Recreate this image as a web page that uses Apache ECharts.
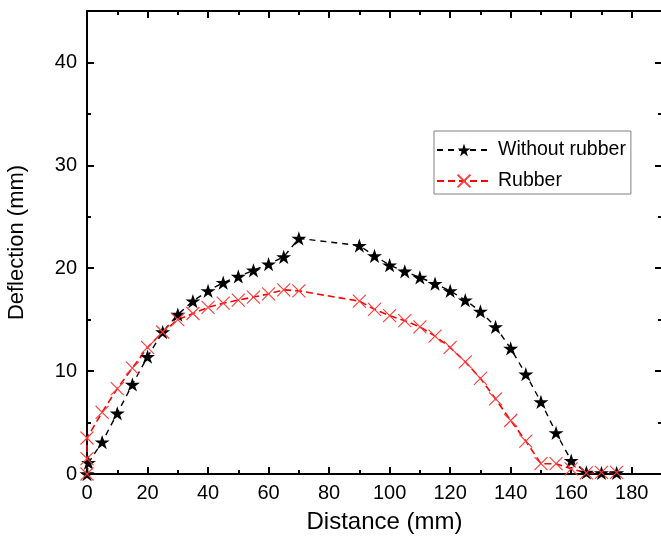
<!DOCTYPE html>
<html>
<head>
<meta charset="utf-8">
<script src="https://cdn.jsdelivr.net/npm/echarts@6/dist/echarts.min.js"></script>
<style>
  html, body { margin: 0; padding: 0; background: #fff; }
  #chart { width: 661px; height: 545px; }
</style>
</head>
<body>
<div id="chart"></div>
<script>
// Measured deflection profiles along the span (mm)
const withoutRubberX = [0, 0.5, 5, 10, 15, 20, 25, 30, 35, 40, 45, 50, 55, 60, 65, 70, 90, 95, 100, 105, 110, 115, 120, 125, 130, 135, 140, 145, 150, 155, 160, 165, 170, 175];
const withoutRubberY = [0, 1.1, 3.1, 5.9, 8.7, 11.4, 13.8, 15.5, 16.8, 17.8, 18.6, 19.2, 19.8, 20.4, 21.1, 22.9, 22.2, 21.2, 20.3, 19.7, 19.1, 18.5, 17.8, 16.9, 15.8, 14.3, 12.2, 9.7, 7.0, 4.0, 1.3, 0.15, 0.1, 0.1];

const rubberX = [0, 0, 0, 5, 10, 15, 20, 25, 30, 35, 40, 45, 50, 55, 60, 65, 70, 90, 95, 100, 105, 110, 115, 120, 125, 130, 135, 140, 145, 150, 155, 160, 165, 170, 175];
const rubberY = [0, 1.5, 3.5, 6.0, 8.3, 10.3, 12.3, 13.8, 15.0, 15.6, 16.2, 16.6, 16.9, 17.2, 17.5, 17.9, 17.8, 16.8, 16.0, 15.4, 14.9, 14.3, 13.4, 12.3, 10.9, 9.3, 7.3, 5.2, 3.2, 1.0, 1.0, 0.5, 0.1, 0.15, 0.15];

const seriesNames = ['Without rubber', 'Rubber'];

const zip = (xs, ys) => xs.map((x, i) => [x, ys[i]]);

const STAR = 'path://M50,0L61.2,34.5L97.6,34.5L68.2,55.9L79.4,90.5L50,69.1L20.6,90.5L31.8,55.9L2.4,34.5L38.8,34.5Z';
const CROSS = 'path://M0,0L10,10M0,10L10,0';

const FONT = '"Liberation Sans", Arial, sans-serif';

const tickCommon = {
  axisLine: { show: true, onZero: false, lineStyle: { color: '#000', width: 2 } },
  axisTick: { show: true, inside: true, length: 7, lineStyle: { color: '#000', width: 2 } },
  minorTick: { show: true, splitNumber: 2, length: 4, lineStyle: { color: '#000', width: 2 } },
  splitLine: { show: false }
};

const chart = echarts.init(document.getElementById('chart'), null, { renderer: 'canvas' });

chart.setOption({
  animation: false,
  backgroundColor: '#fff',
  textStyle: { fontFamily: FONT },
  grid: { left: 87, top: 11, width: 575, height: 463, containLabel: false, outerBoundsMode: 'none' },
  legend: {
    orient: 'vertical',
    left: 434,
    top: 131,
    data: seriesNames,
    itemWidth: 54,
    itemHeight: 16,
    itemGap: 11,
    padding: [9, 5, 3, 2],
    borderColor: '#808080',
    borderWidth: 1,
    textStyle: { fontFamily: FONT, fontSize: 19.5, color: '#000', lineHeight: 20, padding: [0, 0, 0, 2] }
  },
  xAxis: [
    Object.assign({
      type: 'value', position: 'bottom', min: 0, max: 190, interval: 20,
      name: 'Distance (mm)', nameLocation: 'middle', nameGap: 36,
      nameTextStyle: { fontFamily: FONT, fontSize: 24, color: '#000', padding: [0, 0, 0, 20] },
      axisLabel: { fontFamily: FONT, fontSize: 20, color: '#000', margin: 9,
        formatter: v => (v % 20 === 0 && v <= 180 ? String(v) : '') }
    }, tickCommon),
    Object.assign({
      type: 'value', position: 'top', min: 0, max: 190, interval: 20,
      axisLabel: { show: false }
    }, tickCommon)
  ],
  yAxis: [
    Object.assign({
      type: 'value', position: 'left', min: 0, max: 45, interval: 10,
      name: 'Deflection (mm)', nameLocation: 'middle', nameGap: 59,
      nameTextStyle: { fontFamily: FONT, fontSize: 22, color: '#000' },
      axisLabel: { fontFamily: FONT, fontSize: 20, color: '#000', margin: 10,
        formatter: v => (v % 10 === 0 ? String(v) : '') }
    }, tickCommon),
    Object.assign({
      type: 'value', position: 'right', min: 0, max: 45, interval: 10,
      axisLabel: { show: false }
    }, tickCommon)
  ],
  series: [
    {
      name: seriesNames[0],
      type: 'line',
      xAxisIndex: 0, yAxisIndex: 0,
      data: zip(withoutRubberX, withoutRubberY),
      symbol: STAR,
      symbolSize: 15,
      symbolKeepAspect: true,
      itemStyle: { color: '#000' },
      lineStyle: { color: '#000', width: 1.4, type: [6, 5] },
      clip: false
    },
    {
      name: seriesNames[1],
      type: 'line',
      xAxisIndex: 0, yAxisIndex: 0,
      data: zip(rubberX, rubberY),
      symbol: CROSS,
      symbolSize: 13,
      itemStyle: { color: 'rgba(0,0,0,0)', borderColor: '#ff3a3a', borderWidth: 1.1 },
      lineStyle: { color: '#ff0000', width: 1.6, type: [7, 4] },
      clip: false
    }
  ]
});
</script>
</body>
</html>
